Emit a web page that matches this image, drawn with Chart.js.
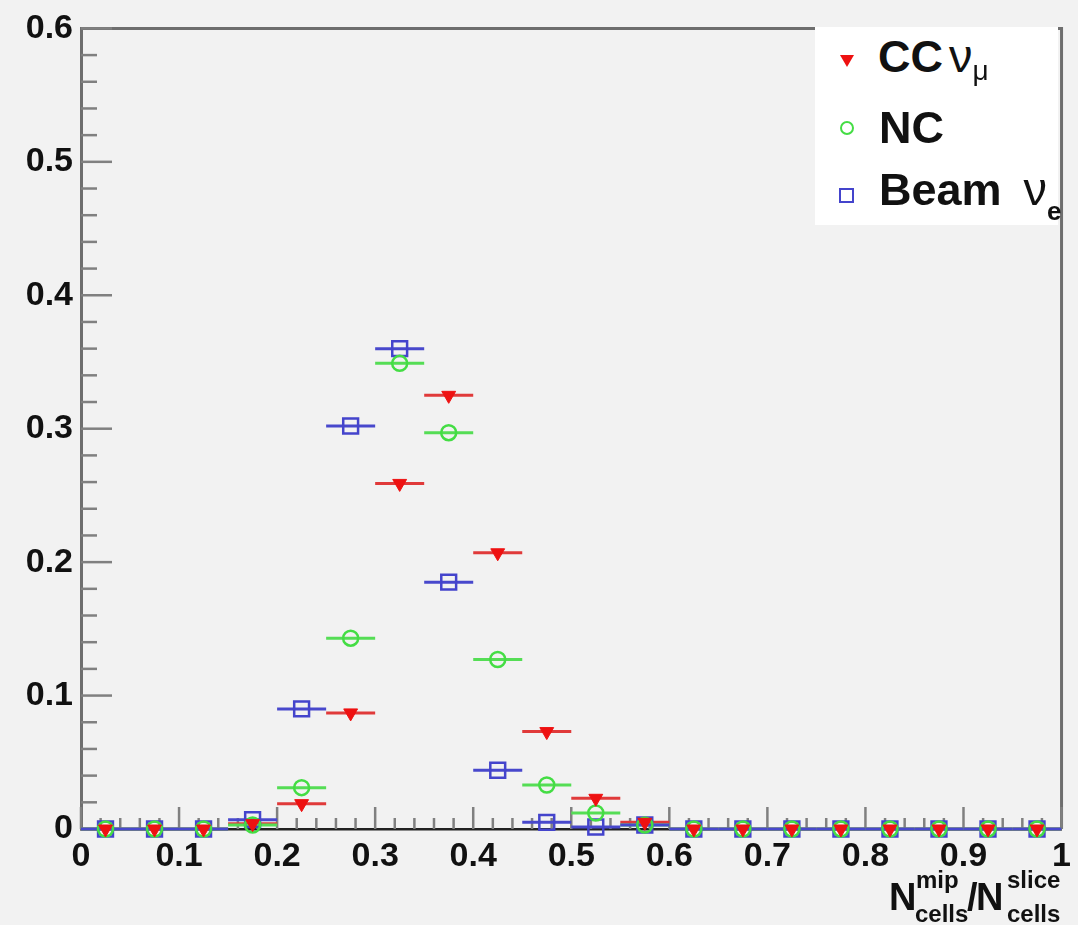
<!DOCTYPE html>
<html>
<head>
<meta charset="utf-8">
<script src="https://cdn.jsdelivr.net/npm/chart.js@4.4.1/dist/chart.umd.min.js"></script>
<style>
	html, body { margin: 0; padding: 0; background: #f2f2f2; }
	#wrap { position: relative; width: 1078px; height: 925px; }
	#legend { position: absolute; left: 815px; top: 27px; width: 243px; height: 198px; background: #fff; }
	.txt { position: absolute; font-family: "Liberation Sans", Arial, sans-serif; font-weight: bold; color: #111; line-height: 1; white-space: nowrap; }
	.greek { font-weight: normal; }
	.sub { position: relative; }
	#marks { position: absolute; left: 0; top: 0; pointer-events: none; }
</style>
</head>
<body>
<div id="wrap">
	<canvas id="plot" width="1078" height="925"></canvas>
	<div id="legend"></div>
	<svg id="marks" width="1078" height="925">
		<polygon points="840,55 854,55 847,67" fill="#ee1111" />
		<circle cx="847" cy="128" r="6" fill="none" stroke="#44dd44" stroke-width="2" />
		<rect x="840" y="189" width="13" height="13" fill="none" stroke="#4444cc" stroke-width="2" />
	</svg>
	<div class="txt" style="left:878px; top:32px; font-size:45px;">CC<span class="greek" style="margin-left:6px; font-size:47px;">ν</span><span class="sub greek" style="font-size:28px; top:8px;">μ</span></div>
	<div class="txt" style="left:879px; top:105px; font-size:45px;">NC</div>
	<div class="txt" style="left:879px; top:165px; font-size:45px;">Beam<span class="greek" style="margin-left:22px; font-size:47px;">ν</span><span class="sub" style="font-size:26px; top:15px;">e</span></div>

	<div class="txt" style="left:889px; top:878px; font-size:38px;">N</div>
	<div class="txt" style="left:916px; top:868px; font-size:24px;">mip</div>
	<div class="txt" style="left:915px; top:902px; font-size:24px;">cells</div>
	<div class="txt" style="left:967px; top:878px; font-size:38px;">/</div>
	<div class="txt" style="left:976px; top:878px; font-size:38px;">N</div>
	<div class="txt" style="left:1007px; top:868px; font-size:24px;">slice</div>
	<div class="txt" style="left:1007px; top:902px; font-size:24px;">cells</div>
</div>
<script>
const binCenters = [0.025, 0.075, 0.125, 0.175, 0.225, 0.275, 0.325, 0.375, 0.425, 0.475,
	0.525, 0.575, 0.625, 0.675, 0.725, 0.775, 0.825, 0.875, 0.925, 0.975];
const binWidth = 0.05;

const ccNumu = [0, 0, 0, 0.004, 0.019, 0.087, 0.259, 0.325, 0.207, 0.073,
	0.023, 0.005, 0, 0, 0, 0, 0, 0, 0, 0];
const ncVals = [0, 0, 0, 0.003, 0.031, 0.143, 0.349, 0.297, 0.127, 0.033,
	0.012, 0.003, 0, 0, 0, 0, 0, 0, 0, 0];
const beamNue = [0, 0, 0, 0.007, 0.090, 0.302, 0.360, 0.185, 0.044, 0.005,
	0.0015, 0.003, 0, 0, 0, 0, 0, 0, 0, 0];

const xTicks = [0, 0.1, 0.2, 0.3, 0.4, 0.5, 0.6, 0.7, 0.8, 0.9, 1];
const xTickLabels = ["0", "0.1", "0.2", "0.3", "0.4", "0.5", "0.6", "0.7", "0.8", "0.9", "1"];
const yTicks = [0, 0.1, 0.2, 0.3, 0.4, 0.5, 0.6];
const yTickLabels = ["0", "0.1", "0.2", "0.3", "0.4", "0.5", "0.6"];

const tickFont = { family: "'Liberation Sans', Arial, sans-serif", size: 34, weight: "bold" };

function toPoints(values) {
	return binCenters.map((x, i) => ({ x: x, y: values[i] }));
}

// ROOT style: ticks pointing inward, frame on top/right, horizontal bin-width error bars
const rootFrame = {
	id: "rootFrame",
	beforeDatasetsDraw(chart) {
		const { ctx, chartArea, scales } = chart;
		const xs = scales.x;
		const ys = scales.y;
		ctx.save();

		ctx.strokeStyle = "#6e6e6e";
		ctx.lineWidth = 3;
		ctx.beginPath();
		ctx.moveTo(chartArea.left, chartArea.top);
		ctx.lineTo(chartArea.right, chartArea.top);
		ctx.lineTo(chartArea.right, chartArea.bottom);
		ctx.stroke();

		ctx.strokeStyle = "#808080";
		ctx.lineWidth = 2.5;
		for (let i = 0; i <= 50; i++) {
			const px = xs.getPixelForValue(i * 0.02);
			const len = i % 5 === 0 ? 22 : 11;
			ctx.beginPath();
			ctx.moveTo(px, chartArea.bottom);
			ctx.lineTo(px, chartArea.bottom - len);
			ctx.stroke();
		}
		for (let i = 0; i <= 30; i++) {
			const py = ys.getPixelForValue(i * 0.02);
			const len = i % 5 === 0 ? 31 : 16;
			ctx.beginPath();
			ctx.moveTo(chartArea.left, py);
			ctx.lineTo(chartArea.left + len, py);
			ctx.stroke();
		}

		ctx.lineWidth = 3;
		for (const ds of chart.data.datasets) {
			ctx.strokeStyle = ds.barColor;
			for (const p of ds.data) {
				const py = ys.getPixelForValue(p.y);
				ctx.beginPath();
				ctx.moveTo(xs.getPixelForValue(p.x - binWidth / 2), py);
				ctx.lineTo(xs.getPixelForValue(p.x + binWidth / 2), py);
				ctx.stroke();
			}
		}
		ctx.restore();
	},
};

new Chart(document.getElementById("plot").getContext("2d"), {
	type: "scatter",
	data: {
		datasets: [
			{
				label: "CC numu",
				data: toPoints(ccNumu),
				pointStyle: "triangle",
				rotation: 180,
				radius: 8,
				backgroundColor: "#ee1111",
				borderColor: "#ee1111",
				borderWidth: 1,
				barColor: "#e03a3a",
				clip: false,
			},
			{
				label: "NC",
				data: toPoints(ncVals),
				pointStyle: "circle",
				radius: 7.5,
				backgroundColor: "rgba(0,0,0,0)",
				borderColor: "#44dd44",
				borderWidth: 2.5,
				barColor: "#55dd55",
				clip: false,
			},
			{
				label: "Beam nue",
				data: toPoints(beamNue),
				pointStyle: "rect",
				radius: 10.5,
				backgroundColor: "rgba(0,0,0,0)",
				borderColor: "#4444cc",
				borderWidth: 2.5,
				barColor: "#4848cc",
				clip: false,
			},
		],
	},
	options: {
		responsive: false,
		animation: false,
		events: [],
		layout: { padding: { top: 28, right: 16, left: 0, bottom: 0 } },
		scales: {
			x: {
				type: "linear",
				min: 0,
				max: 1,
				afterBuildTicks: (s) => { s.ticks = xTicks.map((v) => ({ value: v })); },
				afterFit: (s) => { s.height = 96; },
				ticks: {
					callback: (v, i) => xTickLabels[i],
					font: tickFont,
					color: "#111",
					padding: 7,
					maxRotation: 0,
					autoSkip: false,
				},
				grid: { display: false, drawTicks: false },
				border: { display: true, color: "#222", width: 2.5 },
			},
			y: {
				type: "linear",
				min: 0,
				max: 0.6,
				afterBuildTicks: (s) => { s.ticks = yTicks.map((v) => ({ value: v })); },
				afterFit: (s) => { s.width = 81; },
				ticks: {
					callback: (v, i) => yTickLabels[i],
					font: tickFont,
					color: "#111",
					padding: 8,
					autoSkip: false,
				},
				grid: { display: false, drawTicks: false },
				border: { display: true, color: "#6e6e6e", width: 3 },
			},
		},
		plugins: {
			legend: { display: false },
			tooltip: { enabled: false },
		},
	},
	plugins: [rootFrame],
});
</script>
</body>
</html>
